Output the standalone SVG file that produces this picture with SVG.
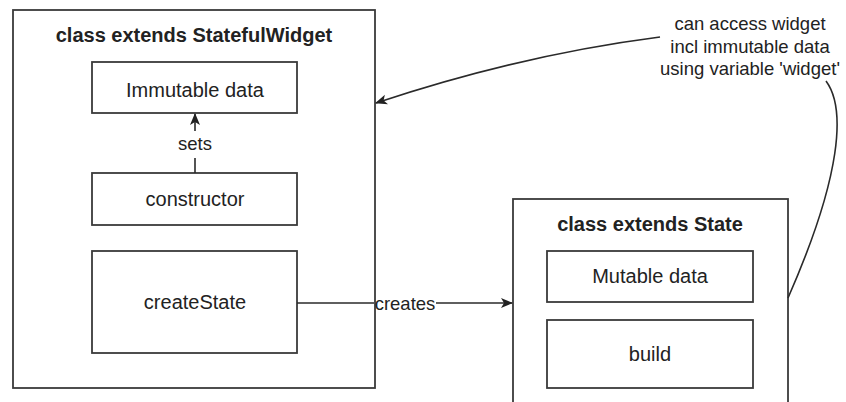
<svg xmlns="http://www.w3.org/2000/svg" width="846" height="402" viewBox="0 0 846 402">
<defs>
<style>
.box{fill:#fff;stroke:#3a3a3a;stroke-width:1.8}
.t{font-family:"Liberation Sans",Arial,sans-serif;font-size:20px;fill:#222;text-anchor:middle}
.b{font-weight:bold}
.l{font-family:"Liberation Sans",Arial,sans-serif;font-size:18.5px;fill:#222;text-anchor:middle}
.c{fill:none;stroke:#2a2a2a;stroke-width:1.6}
</style>
<marker id="ah" viewBox="0 0 12 12" refX="11" refY="6" markerWidth="12" markerHeight="12" markerUnits="userSpaceOnUse" orient="auto">
<path d="M0,1 L12,6 L0,11 L3,6 Z" fill="#222"/>
</marker>
</defs>
<rect width="846" height="402" fill="#fff"/>
<g id="stateful">
<rect class="box" x="13" y="10" width="362" height="378"/>
<text class="t b" x="194" y="42">class extends StatefulWidget</text>
</g>
<g id="immutable">
<rect class="box" x="92" y="62" width="205" height="51"/>
<text class="t" x="195" y="97">Immutable data</text>
</g>
<g id="constructor">
<rect class="box" x="92" y="173" width="205" height="52"/>
<text class="t" x="195" y="206">constructor</text>
</g>
<g id="createState">
<rect class="box" x="92" y="251" width="205" height="102"/>
<text class="t" x="195" y="309">createState</text>
</g>
<g id="state">
<rect class="box" x="513" y="199" width="275" height="215"/>
<text class="t b" x="650" y="231">class extends State</text>
</g>
<g id="mutable">
<rect class="box" x="547" y="251" width="206" height="51"/>
<text class="t" x="650" y="283">Mutable data</text>
</g>
<g id="build">
<rect class="box" x="547" y="320" width="206" height="68"/>
<text class="t" x="650" y="361">build</text>
</g>
<g id="note">
<text class="l" x="750" y="30">can access widget</text>
<text class="l" x="750" y="53">incl immutable data</text>
<text class="l" x="750" y="75">using variable 'widget'</text>
</g>
<g id="connectors">
<line class="c" x1="195" y1="173" x2="195" y2="158"/>
<line class="c" x1="195" y1="131" x2="195" y2="114" marker-end="url(#ah)"/>
<text class="l" x="195" y="150">sets</text>
<line class="c" x1="297" y1="303" x2="374" y2="303"/>
<line class="c" x1="436" y1="303" x2="512" y2="303" marker-end="url(#ah)"/>
<text class="l" x="405" y="310">creates</text>
<path class="c" d="M660 37 Q520 55 376 103" marker-end="url(#ah)"/>
<path class="c" d="M826 81 C846 108 842 175 788 298"/>
</g>
</svg>
